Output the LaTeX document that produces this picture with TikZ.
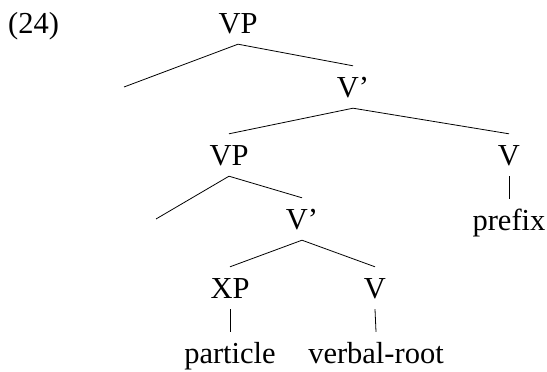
\documentclass[tikz,border=0pt]{standalone}
\usepackage{fontspec}
\setmainfont{Liberation Serif}
\begin{document}
\begin{tikzpicture}[x=1pt,y=1pt,
  lbl/.style={anchor=base,inner xsep=0pt,inner ysep=11pt,text height=20pt,text depth=0pt,font=\fontsize{30.5}{36}\selectfont},
  edge/.style={line width=0.8pt}]
\useasboundingbox (0,0) rectangle (547,-372);
\node[lbl,anchor=base west] (ex) at (8,-33) {(24)};
\node[lbl] (vp1) at (238,-33) {VP};
\node[lbl] (vbar1) at (353,-97) {V’};
\node[lbl] (vp2) at (229,-165) {VP};
\node[lbl] (v1) at (509,-165) {V};
\node[lbl] (prefix) at (509,-230) {prefix};
\node[lbl] (vbar2) at (302,-229) {V’};
\node[lbl] (xp) at (230,-298) {XP};
\node[lbl] (v2) at (375,-298) {V};
\node[lbl] (particle) at (230,-363) {particle};
\node[lbl] (root) at (376,-363) {verbal-root};
\coordinate (spec1) at (124,-87);
\coordinate (spec2) at (156,-219);
\draw[edge] (spec1) -- (vp1.south) -- (vbar1.north);
\draw[edge] (vp2.north) -- (vbar1.south) -- (v1.north);
\draw[edge] (v1.south) -- (prefix.north);
\draw[edge] (spec2) -- (vp2.south) -- (vbar2.north);
\draw[edge] (xp.north) -- (vbar2.south) -- (v2.north);
\draw[edge] (xp.south) -- (particle.north);
\draw[edge] (v2.south) -- (root.north);
\end{tikzpicture}
\end{document}
